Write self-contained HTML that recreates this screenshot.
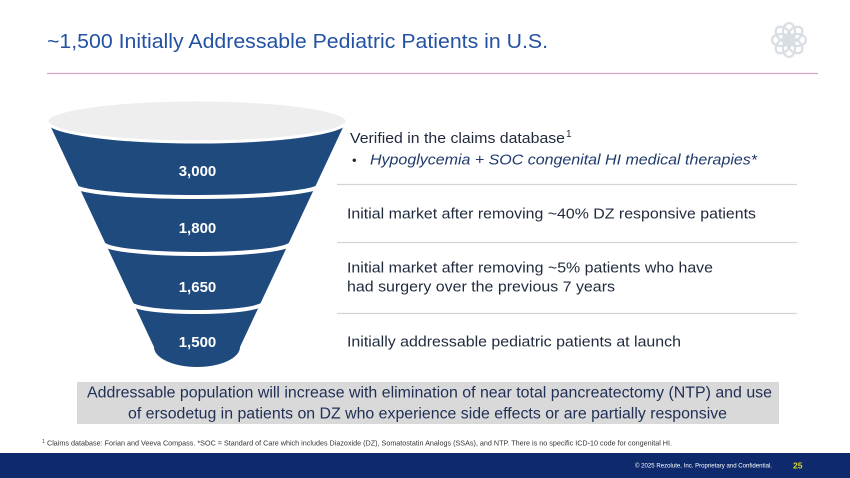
<!DOCTYPE html>
<html>
<head>
<meta charset="utf-8">
<style>
  html,body{margin:0;padding:0;background:#ffffff;}
  body{width:850px;height:478px;overflow:hidden;}
  svg{display:block;font-family:"Liberation Sans",Arial,sans-serif;}
</style>
</head>
<body>
<svg width="850" height="478" viewBox="0 0 850 478" xmlns="http://www.w3.org/2000/svg">
  <rect x="0" y="0" width="850" height="478" fill="#ffffff"/>

  <!-- Title -->
  <text x="47" y="48" font-size="20" fill="#2352a3" textLength="501" lengthAdjust="spacingAndGlyphs">~1,500 Initially Addressable Pediatric Patients in U.S.</text>
  <line x1="47" y1="73.5" x2="818" y2="73.5" stroke="#d8a6c6" stroke-width="1.3"/>

  <!-- Logo -->
  <g transform="translate(789,40)" fill="none" stroke="#d9dde4" stroke-width="2.2">
    <ellipse cx="0" cy="-8" rx="6" ry="9"/>
    <ellipse cx="0" cy="-8" rx="6" ry="9" transform="rotate(45)"/>
    <ellipse cx="0" cy="-8" rx="6" ry="9" transform="rotate(90)"/>
    <ellipse cx="0" cy="-8" rx="6" ry="9" transform="rotate(135)"/>
    <ellipse cx="0" cy="-8" rx="6" ry="9" transform="rotate(180)"/>
    <ellipse cx="0" cy="-8" rx="6" ry="9" transform="rotate(225)"/>
    <ellipse cx="0" cy="-8" rx="6" ry="9" transform="rotate(270)"/>
    <ellipse cx="0" cy="-8" rx="6" ry="9" transform="rotate(315)"/>
    <circle cx="0" cy="0" r="5"/>
  </g>

  <!-- Funnel -->
  <path d="M 48,121 L 346,121 L 240,347 A 43 20 0 0 1 154,347 Z" fill="#1f4a7e"/>
  <ellipse cx="197" cy="121" rx="150" ry="21" fill="#eeeeee" stroke="#ffffff" stroke-width="3"/>
  <path d="M 74,185 A 123 12 0 0 0 320,185" fill="none" stroke="#ffffff" stroke-width="4"/>
  <path d="M 103,243 A 94 11 0 0 0 291,243" fill="none" stroke="#ffffff" stroke-width="4"/>
  <path d="M 131,303 A 66 9 0 0 0 263,303" fill="none" stroke="#ffffff" stroke-width="4"/>

  <g font-size="15" font-weight="bold" fill="#ffffff" text-anchor="middle">
    <text x="197.5" y="176">3,000</text>
    <text x="197.5" y="233">1,800</text>
    <text x="197.5" y="292">1,650</text>
    <text x="197.5" y="347">1,500</text>
  </g>

  <!-- Right side descriptions -->
  <g font-size="15" fill="#1f2a3d">
    <text x="350" y="143" textLength="215" lengthAdjust="spacingAndGlyphs">Verified in the claims database</text>
    <text x="566" y="137" font-size="10">1</text>
    <text x="352" y="164.5" font-size="13">•</text>
    <text x="370" y="164.5" font-style="italic" fill="#1f3a6b" textLength="387" lengthAdjust="spacingAndGlyphs">Hypoglycemia + SOC congenital HI medical therapies*</text>

    <text x="347" y="218.5" textLength="409" lengthAdjust="spacingAndGlyphs">Initial market after removing ~40% DZ responsive patients</text>

    <text x="347" y="272.5" textLength="366" lengthAdjust="spacingAndGlyphs">Initial market after removing ~5% patients who have</text>
    <text x="347" y="291.5" textLength="268" lengthAdjust="spacingAndGlyphs">had surgery over the previous 7 years</text>

    <text x="347" y="346.5" textLength="334" lengthAdjust="spacingAndGlyphs">Initially addressable pediatric patients at launch</text>
  </g>
  <g stroke="#d4d4d4" stroke-width="1.2">
    <line x1="337" y1="184.5" x2="797" y2="184.5"/>
    <line x1="337" y1="242.5" x2="797" y2="242.5"/>
    <line x1="337" y1="313.5" x2="797" y2="313.5"/>
  </g>

  <!-- Gray callout box -->
  <rect x="77" y="382" width="702" height="42" fill="#d9d9d9"/>
  <g font-size="15.5" fill="#1f2f55">
    <text x="87" y="397.5" textLength="685" lengthAdjust="spacingAndGlyphs">Addressable population will increase with elimination of near total pancreatectomy (NTP) and use</text>
    <text x="128" y="418.5" textLength="599" lengthAdjust="spacingAndGlyphs">of ersodetug in patients on DZ who experience side effects or are partially responsive</text>
  </g>

  <!-- Footnote -->
  <text x="42" y="443" font-size="5" fill="#333333">1</text>
  <text x="47" y="445.5" font-size="7" fill="#333333" textLength="625" lengthAdjust="spacingAndGlyphs">Claims database: Forian and Veeva Compass. *SOC = Standard of Care which includes Diazoxide (DZ), Somatostatin Analogs (SSAs), and NTP. There is no specific ICD-10 code for congenital HI.</text>

  <!-- Footer band -->
  <rect x="0" y="453" width="850" height="25" fill="#0e2a6c"/>
  <text x="635" y="467.5" font-size="6.5" fill="#ffffff" textLength="137" lengthAdjust="spacingAndGlyphs">© 2025 Rezolute, Inc. Proprietary and Confidential.</text>
  <text x="793" y="468.5" font-size="8.5" font-weight="bold" fill="#dcd42a">25</text>
</svg>
</body>
</html>
